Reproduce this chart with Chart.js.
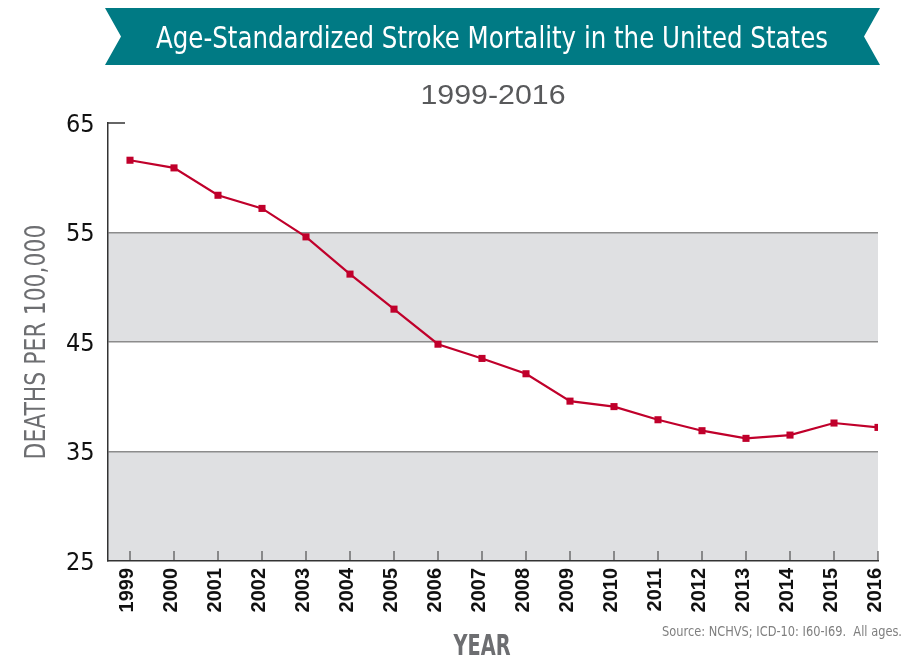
<!DOCTYPE html>
<html>
<head>
<meta charset="utf-8">
<script src="https://cdn.jsdelivr.net/npm/chart.js"></script>
<style>
  html, body { margin: 0; padding: 0; background: #fff; }
</style>
</head>
<body>
<canvas id="strokeChart" width="903" height="659"></canvas>
<script>
// chart data
const titleText = 'Age-Standardized Stroke Mortality in the United States';
const subtitleText = '1999-2016';
const sourceText = 'Source: NCHVS; ICD-10: I60-I69.  All ages.';
const yAxisTitle = 'DEATHS PER 100,000';
const xAxisTitle = 'YEAR';
const years = [1999, 2000, 2001, 2002, 2003, 2004, 2005, 2006, 2007, 2008,
               2009, 2010, 2011, 2012, 2013, 2014, 2015, 2016];
const mortality = [61.6, 60.9, 58.4, 57.2, 54.6, 51.2, 48.0, 44.8, 43.5, 42.1,
                   39.6, 39.1, 37.9, 36.9, 36.2, 36.5, 37.6, 37.2];
const yTicks = [25, 35, 45, 55, 65];
const shadedBands = [[45, 55], [25, 35]];

const NARROW = '"Liberation Sans Narrow", "DejaVu Sans Condensed", "Liberation Sans", sans-serif';
const RED = '#c0002b';
const AXIS = '#333333';
const TITLE_GREY = '#6d6e71';

// draw text squeezed/stretched to a given width
function fitText(ctx, text, x, y, width, angle) {
    const w = ctx.measureText(text).width;
    ctx.save();
    ctx.translate(x, y);
    if (angle) ctx.rotate(angle);
    ctx.scale(width / w, 1);
    ctx.textAlign = 'center';
    ctx.fillText(text, 0, 0);
    ctx.restore();
}

const decorations = {
    id: 'decorations',
    beforeDraw(chart) {
        const ctx = chart.ctx;
        const area = chart.chartArea;
        const y = chart.scales.y;

        ctx.save();
        ctx.fillStyle = '#fff';
        ctx.fillRect(0, 0, chart.width, chart.height);

        // grey bands
        ctx.fillStyle = '#dfe0e2';
        shadedBands.forEach(([lo, hi]) => {
            const top = y.getPixelForValue(hi);
            const bottom = y.getPixelForValue(lo);
            ctx.fillRect(area.left, top, area.right - area.left, bottom - top);
        });
        ctx.restore();
    },
    afterDatasetsDraw(chart) {
        const ctx = chart.ctx;
        const area = chart.chartArea;
        const x = chart.scales.x;
        const y = chart.scales.y;

        ctx.save();
        ctx.strokeStyle = AXIS;
        ctx.lineWidth = 1.5;
        // small stub at the top value
        const topY = y.getPixelForValue(yTicks[yTicks.length - 1]);
        ctx.beginPath();
        ctx.moveTo(area.left, topY);
        ctx.lineTo(area.left + 17, topY);
        ctx.stroke();
        // inward tick marks on the year axis
        ctx.lineWidth = 1;
        x.ticks.forEach(t => {
            const px = x.getPixelForValue(t.value);
            ctx.beginPath();
            ctx.moveTo(px, area.bottom);
            ctx.lineTo(px, area.bottom - 10);
            ctx.stroke();
        });
        ctx.restore();
    },
    afterDraw(chart) {
        const ctx = chart.ctx;
        const area = chart.chartArea;
        ctx.save();

        // ribbon banner
        const bl = 105, br = 880, bt = 8, bb = 65, notch = 16;
        const mid = (bt + bb) / 2;
        ctx.fillStyle = '#007a84';
        ctx.beginPath();
        ctx.moveTo(bl, bt);
        ctx.lineTo(br, bt);
        ctx.lineTo(br - notch, mid);
        ctx.lineTo(br, bb);
        ctx.lineTo(bl, bb);
        ctx.lineTo(bl + notch, mid);
        ctx.closePath();
        ctx.fill();

        ctx.fillStyle = '#ffffff';
        ctx.font = '31px ' + NARROW;
        ctx.textBaseline = 'alphabetic';
        fitText(ctx, titleText, 492, 48, 672);

        // subtitle
        ctx.fillStyle = '#58595b';
        ctx.font = '28px "Liberation Sans", Arial, sans-serif';
        fitText(ctx, subtitleText, 493, 104, 145);

        // axis titles
        ctx.fillStyle = TITLE_GREY;
        ctx.font = '28px ' + NARROW;
        fitText(ctx, yAxisTitle, 45, (area.top + area.bottom) / 2, 235, -Math.PI / 2);
        ctx.font = 'bold 28px ' + NARROW;
        fitText(ctx, xAxisTitle, (area.left + area.right) / 2 - 11, 655, 57);

        // source note
        ctx.fillStyle = '#7f7f7f';
        ctx.font = '14px ' + NARROW;
        fitText(ctx, sourceText, 782, 636, 240);

        ctx.restore();
    }
};

function createChart() {
    const ctx = document.getElementById('strokeChart');

    new Chart(ctx, {
        type: 'line',
        data: {
            datasets: [{
                label: 'Stroke mortality',
                data: years.map((yr, i) => ({ x: yr, y: mortality[i] })),
                borderColor: RED,
                backgroundColor: RED,
                borderWidth: 2.2,
                tension: 0,
                fill: false,
                pointStyle: 'rect',
                pointRadius: 5,
                pointBorderWidth: 0,
                pointBackgroundColor: RED
            }]
        },
        options: {
            responsive: false,
            animation: false,
            layout: {
                padding: { top: 123, right: 25, bottom: 0, left: 0 }
            },
            plugins: {
                legend: { display: false },
                tooltip: { enabled: false },
                title: { display: false }
            },
            scales: {
                x: {
                    type: 'linear',
                    min: 1998.5,
                    max: 2016,
                    afterBuildTicks(scale) {
                        scale.ticks = years.map(v => ({ value: v }));
                    },
                    afterFit(scale) {
                        scale.height = 98;
                        scale.paddingLeft = 0;
                        scale.paddingRight = 0;
                    },
                    grid: { display: false, drawTicks: false },
                    border: { display: true, color: AXIS, width: 1.5 },
                    ticks: {
                        autoSkip: false,
                        minRotation: 90,
                        maxRotation: 90,
                        padding: 7,
                        labelOffset: -3,
                        color: '#111',
                        font: { family: '"Liberation Sans", Arial, sans-serif', size: 20, weight: 'bold' },
                        callback: v => String(v)
                    },
                    title: { display: false }
                },
                y: {
                    min: 25,
                    max: 65,
                    afterBuildTicks(scale) {
                        scale.ticks = yTicks.map(v => ({ value: v }));
                    },
                    afterFit(scale) {
                        scale.width = 108;
                        scale.paddingTop = 0;
                        scale.paddingBottom = 0;
                    },
                    grid: {
                        drawTicks: false,
                        lineWidth: 1.5,
                        color: c => (c.tick && c.tick.value > 25 && c.tick.value < 65) ? '#8c8c8c' : 'rgba(0,0,0,0)'
                    },
                    border: { display: true, color: AXIS, width: 1.5 },
                    ticks: {
                        padding: 13.5,
                        labelOffset: 2,
                        color: '#111',
                        font: { family: NARROW, size: 25 }
                    },
                    title: { display: false }
                }
            }
        },
        plugins: [decorations]
    });
}

createChart();
</script>
</body>
</html>
